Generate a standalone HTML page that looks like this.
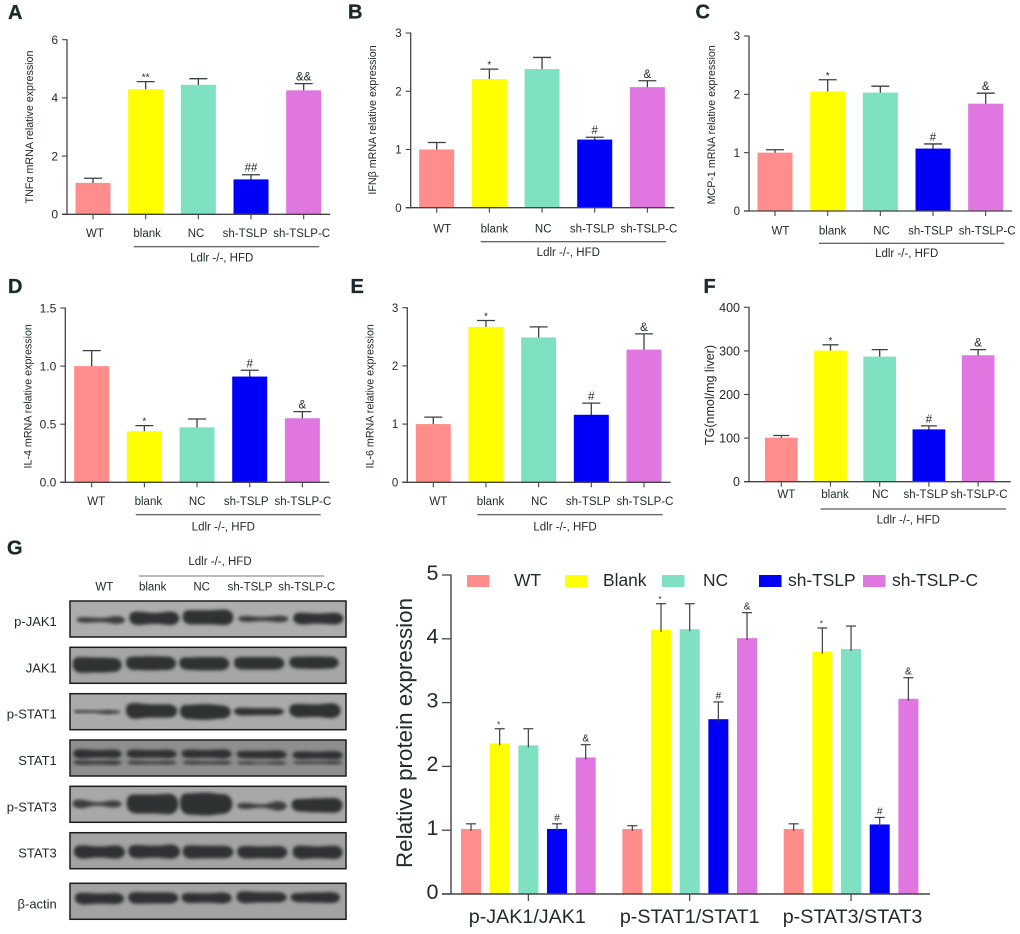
<!DOCTYPE html>
<html lang="en">
<head>
<meta charset="utf-8">
<title>TSLP figure</title>
<style>
html,body{margin:0;padding:0;background:#fff;}
#figure{display:block;width:1020px;height:934px;filter:blur(0.3px);}
text{font-family:"Liberation Sans",Arial,sans-serif;fill:#222b2b;}
.letter{font-size:20px;font-weight:bold;fill:#1b2a2a;stroke:#1b2a2a;stroke-width:0.3px;}
</style>
</head>
<body>
<svg id="figure" xmlns="http://www.w3.org/2000/svg" width="1020" height="934" viewBox="0 0 1020 934">
<defs><filter id="blot-blur" x="-10%" y="-40%" width="120%" height="180%"><feGaussianBlur stdDeviation="1.5"/></filter></defs>
<text class="letter" x="8" y="19">A</text>
<text class="letter" x="348" y="18.5">B</text>
<text class="letter" x="695.5" y="18.5">C</text>
<text class="letter" x="8" y="293">D</text>
<text class="letter" x="350.5" y="293">E</text>
<text class="letter" x="703.5" y="293">F</text>
<text class="letter" x="7" y="554.5">G</text>
<g id="bar-panels"></g>
<g id="blot"></g>
<g id="protein-chart"></g>
</svg>
<script>
// ---- shared categories and colours ----
const categories = ['WT', 'blank', 'NC', 'sh-TSLP', 'sh-TSLP-C'];
const legendLabels = ['WT', 'Blank', 'NC', 'sh-TSLP', 'sh-TSLP-C'];
const barColors = ['#fe8d8c', '#ffff00', '#7fe1c1', '#0000fa', '#e076e0'];

// ---- panel A ----
const tnfValues = [1.08, 4.30, 4.45, 1.20, 4.26];
const tnfErrors = [0.16, 0.26, 0.21, 0.16, 0.23];
const tnfNotes = ['', '**', '', '##', '&&'];
const tnfTicks = ['0', '2', '4', '6'];
// ---- panel B ----
const ifnValues = [1.00, 2.21, 2.38, 1.17, 2.07];
const ifnErrors = [0.12, 0.17, 0.20, 0.04, 0.11];
const ifnNotes = ['', '*', '', '#', '&'];
const ifnTicks = ['0', '1', '2', '3'];
// ---- panel C ----
const mcpValues = [1.00, 2.05, 2.03, 1.07, 1.84];
const mcpErrors = [0.05, 0.20, 0.11, 0.08, 0.18];
const mcpNotes = ['', '*', '', '#', '&'];
const mcpTicks = ['0', '1', '2', '3'];
// ---- panel D ----
const il4Values = [1.00, 0.44, 0.473, 0.91, 0.551];
const il4Errors = [0.133, 0.048, 0.072, 0.054, 0.057];
const il4Notes = ['', '*', '', '#', '&'];
const il4Ticks = ['0.0', '0.5', '1.0', '1.5'];
// ---- panel E ----
const il6Values = [1.00, 2.67, 2.49, 1.16, 2.28];
const il6Errors = [0.12, 0.11, 0.18, 0.20, 0.27];
const il6Notes = ['', '*', '', '#', '&'];
const il6Ticks = ['0', '1', '2', '3'];
// ---- panel F ----
const tgValues = [101, 300.6, 287, 120, 290];
const tgErrors = [5, 13.4, 16, 8, 13];
const tgNotes = ['', '*', '', '#', '&'];
const tgTicks = ['0', '100', '200', '300', '400'];
// ---- panel G chart ----
const proteinGroups = ['p-JAK1/JAK1', 'p-STAT1/STAT1', 'p-STAT3/STAT3'];
const jakValues = [1.02, 2.36, 2.33, 1.02, 2.14];
const jakErrors = [0.08, 0.23, 0.26, 0.08, 0.20];
const stat1Values = [1.02, 4.14, 4.15, 2.74, 4.01];
const stat1Errors = [0.05, 0.41, 0.40, 0.27, 0.40];
const stat3Values = [1.02, 3.80, 3.84, 1.09, 3.06];
const stat3Errors = [0.08, 0.37, 0.36, 0.11, 0.33];
const proteinNotes = ['', '*', '', '#', '&'];
const proteinTicks = ['0', '1', '2', '3', '4', '5'];

// ---- layout (not data) ----
const panels = [
 {id:'tnf', title:'TNFα mRNA relative expression', v:tnfValues, e:tnfErrors, n:tnfNotes, t:tnfTicks, ox:67, y0:214.3, top:39.7, right:330, c0:93, step:52.67, bw:35, cap:9, shift:0, lab:237, ly:246.7, lx1:133.7, lx2:319.3, lc:221.7, lb:261.7, tx:33, ty:127, fs:12},
 {id:'ifn', title:'IFNβ mRNA relative expression', v:ifnValues, e:ifnErrors, n:ifnNotes, t:ifnTicks, ox:410.7, y0:207.7, top:33, right:674.3, c0:436.7, step:52.67, bw:35, cap:9, shift:3.5, lab:232.5, ly:241.7, lx1:480.7, lx2:666, lc:568.3, lb:256, tx:376, ty:120, fs:11.5},
 {id:'mcp', title:'MCP-1 mRNA relative expression', v:mcpValues, e:mcpErrors, n:mcpNotes, t:mcpTicks, ox:749, y0:211, top:36, right:1012, c0:775, step:52.67, bw:35, cap:9, shift:3.5, lab:234.5, ly:243.3, lx1:819, lx2:1004.3, lc:906.7, lb:257, tx:715, ty:124.8, fs:11.5},
 {id:'il4', title:'IL-4 mRNA relative expression', v:il4Values, e:il4Errors, n:il4Notes, t:il4Ticks, ox:65.3, y0:482.3, top:308, right:329.3, c0:91.7, step:52.67, bw:35, cap:9, shift:2.5, lab:505, ly:514.7, lx1:135.7, lx2:320.7, lc:223.3, lb:530.7, tx:31.7, ty:396.3, fs:12},
 {id:'il6', title:'IL-6 mRNA relative expression', v:il6Values, e:il6Errors, n:il6Notes, t:il6Ticks, ox:407.3, y0:482.3, top:307.7, right:670.7, c0:433.3, step:52.67, bw:35, cap:9, shift:3, lab:505, ly:514.7, lx1:477.3, lx2:662.7, lc:565, lb:530.7, tx:373.3, ty:396.3, fs:11.5},
 {id:'tg', title:'TG(nmol/mg liver)', v:tgValues, e:tgErrors, n:tgNotes, t:tgTicks, ox:749, y0:481.7, top:307.3, right:1010.7, c0:781.3, step:49.2, bw:32.7, cap:8, shift:3, lab:498, ly:509, lx1:820.7, lx2:1006, lc:908.3, lb:523.3, tx:714, ty:395, fs:12.5, titleFs:12.5}
];
const labelOffsets = [2, 1.5, -2.3, -6, -2];

const SVGNS = 'http://www.w3.org/2000/svg';
function mk(tag, parent){
  const el = document.createElementNS(SVGNS, tag);
  parent.appendChild(el);
  return el;
}
function setAttrs(el, o){ for (const k in o) el.setAttribute(k, o[k]); return el; }
function line(parent, x1, y1, x2, y2, stroke, w){
  return setAttrs(mk('line', parent), {x1, y1, x2, y2, stroke, 'stroke-width': w});
}

// ---- small mRNA panels ----
const panelRoot = document.getElementById('bar-panels');
panels.forEach(function(p){
  const g = mk('g', panelRoot);
  
  
  const maxV = parseFloat(p.t[p.t.length - 1]);
  const yScale = function(v){ return p.y0 - (v / maxV) * (p.y0 - p.top); };
  const xScale = function(i){ return p.c0 + i * p.step; };

  // bars
  categories.forEach(function(cat, i){
    const cx = xScale(i);
    const topY = yScale(p.v[i]);
    const errY = yScale(p.v[i] + p.e[i]);
    const stem = line(g, cx, errY, cx, topY + 1, '#3a3f3f', 1.3);
    
    
    const cap = line(g, cx - p.cap, errY, cx + p.cap, errY, '#3a3f3f', 1.3);
    
    
    const bar = setAttrs(mk('rect', g), {x: cx - p.bw / 2, y: topY, width: p.bw, height: p.y0 - topY, fill: barColors[i]});
    
    
    if (p.n[i]) {
      const isStar = p.n[i].charAt(0) === '*';
      const note = setAttrs(mk('text', g), {x: cx, y: errY - (isStar ? 1 : 3), 'text-anchor': 'middle', 'font-size': isStar ? 10 : 11.5});
      note.textContent = p.n[i];
      
      
    }
    const lab = setAttrs(mk('text', g), {x: cx + labelOffsets[i] + p.shift, y: p.lab, 'text-anchor': 'middle', 'font-size': 11.5});
    lab.textContent = cat;
    
    
    const tick = line(g, cx, p.y0, cx, p.y0 + 5, '#444', 1.1);
    
    
  });

  // axes
  const yAxis = line(g, p.ox, p.top - 0.5, p.ox, p.y0 + 0.5, '#444', 1.3);
  
  
  const xAxis = line(g, p.ox - 5, p.y0, p.right, p.y0, '#444', 1.3);
  
  
  p.t.forEach(function(label){
    const y = yScale(parseFloat(label));
    const tk = line(g, p.ox - 5, y, p.ox, y, '#444', 1.1);
    
    
    const tl = setAttrs(mk('text', g), {x: p.ox - 9, y: y + p.fs * 0.36, 'text-anchor': 'end', 'font-size': p.fs});
    tl.textContent = label;
    
    
  });

  // titles and group
  const title = setAttrs(mk('text', g), {transform: 'translate(' + p.tx + ',' + p.ty + ') rotate(-90)', 'text-anchor': 'middle', 'font-size': p.titleFs || 10.7});
  title.textContent = p.title;
  
  
  const gl = line(g, p.lx1, p.ly, p.lx2, p.ly, '#333', 1);
  
  
  const gt = setAttrs(mk('text', g), {x: p.lc, y: p.lb, 'text-anchor': 'middle', 'font-size': 11.5});
  gt.textContent = 'Ldlr -/-, HFD';
  
  
});

// ---- western blot (photographic panel, approximated by blurred bands) ----
const blotRows = [
 {name:'p-JAK1', top:601, bg:'#adadad', bands:[[230,375,270,14,11,20],[388,538,265,34,28,34],[548,700,262,36,36,40],[715,865,267,15,11,17],[880,1030,266,30,26,30]]},
 {name:'JAK1', top:647.3, bg:'#a6a6a6', bands:[[218,365,405,40,38,36],[378,528,400,34,36,34],[538,688,401,32,34,34],[702,853,400,32,32,32],[868,1016,398,30,32,30]]},
 {name:'p-STAT1', top:693.7, bg:'#aaaaaa', bands:[[222,290,545,8,7,7],[285,360,546,8,11,8],[378,532,543,40,34,34],[540,692,546,36,40,34],[702,852,545,20,18,18],[868,1022,542,34,32,38]]},
 {name:'STAT1', top:740, bg:'#8e8e8e', bands:[[220,365,672,24,20,22],[380,530,672,22,20,22],[545,695,672,22,20,24],[710,860,674,20,20,22],[878,1028,676,20,18,22],[220,365,698,12,10,12],[382,530,698,10,8,10],[548,695,698,10,8,10],[712,860,699,8,5,9],[880,1028,698,8,7,9]]},
 {name:'p-STAT3', top:786.3, bg:'#a8a8a8', bands:[[218,365,822,22,9,18],[380,535,822,48,48,52],[540,697,822,54,58,50],[712,860,828,16,9,24],[875,1028,826,32,36,38]]},
 {name:'STAT3', top:832.7, bg:'#a3a3a3', bands:[[222,375,966,34,28,34],[385,540,965,34,30,36],[548,700,966,34,32,32],[712,862,967,32,30,32],[878,1028,967,34,30,34]]},
 {name:'β-actin', top:883.3, bg:'#a3a3a3', bands:[[225,372,1106,30,26,28],[385,535,1104,30,28,28],[545,695,1104,26,24,28],[710,860,1102,30,26,26],[872,1020,1103,24,26,28]]}
];
const blotLanes = ['WT', 'blank', 'NC', 'sh-TSLP', 'sh-TSLP-C'];
const blotRoot = document.getElementById('blot');
function bandPath(b){
  const k = 1.18;
  const x1 = b[0] / 3, x2 = b[1] / 3, yc = 530 + b[2] / 3, hL = k * b[3] / 6, hM = k * b[4] / 6, hR = k * b[5] / 6;
  const w = x2 - x1, a = x1 + w * 0.18, m = x1 + w * 0.5, c = x1 + w * 0.82;
  return 'M' + x1 + ',' + yc +
    ' C' + x1 + ',' + (yc - hL) + ' ' + (a - w * 0.1) + ',' + (yc - hL) + ' ' + a + ',' + (yc - hL) +
    ' S' + (m - w * 0.15) + ',' + (yc - hM) + ' ' + m + ',' + (yc - hM) +
    ' S' + (c - w * 0.1) + ',' + (yc - hR) + ' ' + c + ',' + (yc - hR) +
    ' S' + x2 + ',' + (yc - hR * 0.6) + ' ' + x2 + ',' + yc +
    ' S' + (c + w * 0.1) + ',' + (yc + hR) + ' ' + c + ',' + (yc + hR) +
    ' S' + (m + w * 0.15) + ',' + (yc + hM) + ' ' + m + ',' + (yc + hM) +
    ' S' + (a + w * 0.1) + ',' + (yc + hL) + ' ' + a + ',' + (yc + hL) +
    ' S' + x1 + ',' + (yc + hL * 0.6) + ' ' + x1 + ',' + yc + ' Z';
}
blotRows.forEach(function(r){
  const rowG = mk('g', blotRoot);
  
  
  const bg = setAttrs(mk('rect', rowG), {x: 70, y: r.top, width: 276, height: 36, fill: r.bg});
  
  
  r.bands.forEach(function(b){
    const pth = setAttrs(mk('path', rowG), {d: bandPath(b), fill: '#2f3030', filter: 'url(#blot-blur)'});
    
    
    if (b[4] < 13) pth.setAttribute('fill', '#3d3e3e');
  });
  const border = setAttrs(mk('rect', rowG), {x: 70, y: r.top, width: 276, height: 36, fill: 'none', stroke: '#1c1c1c', 'stroke-width': 1.5});
  
  
  const lab = setAttrs(mk('text', rowG), {x: 56.8, y: r.top + 25, 'text-anchor': 'end', 'font-size': 13});
  lab.textContent = r.name;
  
  
});
const blotLaneXs = [104.3, 152.7, 201.7, 250, 306.7];
blotLanes.forEach(function(name, i){
  const t = setAttrs(mk('text', blotRoot), {x: blotLaneXs[i], y: 590.7, 'text-anchor': 'middle', 'font-size': 11.5});
  t.textContent = name;
  
  
});
const blotLine = line(blotRoot, 139, 576, 324.3, 576, '#777', 1);


const blotGroup = setAttrs(mk('text', blotRoot), {x: 220, y: 565, 'text-anchor': 'middle', 'font-size': 11.5});
blotGroup.textContent = 'Ldlr -/-, HFD';



// ---- protein chart ----
const pc = document.getElementById('protein-chart');
const pSeries = [[jakValues, jakErrors], [stat1Values, stat1Errors], [stat3Values, stat3Errors]];
const pAxis = {ox: 451, y0: 894, top: 575, right: 930, start: 471, step: 28.67, groupStep: 161.35, bw: 20};
const pLabelShift = [-1, 0, 1.5];
const pMax = parseFloat(proteinTicks[proteinTicks.length - 1]);
function pY(v){ return pAxis.y0 - (v / pMax) * (pAxis.y0 - pAxis.top); }
function pX(g, i){ return pAxis.start + g * pAxis.groupStep + i * pAxis.step; }
proteinGroups.forEach(function(name, g){
  const vals = pSeries[g][0], errs = pSeries[g][1];
  categories.forEach(function(cat, i){
    const cx = pX(g, i), topY = pY(vals[i]), errY = pY(vals[i] + errs[i]);
    const bar = setAttrs(mk('rect', pc), {x: cx - pAxis.bw / 2, y: topY, width: pAxis.bw, height: pAxis.y0 - topY, fill: barColors[i]});
    
    
    const stem = line(pc, cx, errY, cx, topY + 2, '#3a3f3f', 1.2);
    
    
    const cap = line(pc, cx - 5, errY, cx + 5, errY, '#3a3f3f', 1.2);
    
    
    if (proteinNotes[i]) {
      const star = proteinNotes[i] === '*';
      const note = setAttrs(mk('text', pc), {x: cx - (star ? 1 : 0), y: errY - (star ? 1.5 : 3), 'text-anchor': 'middle', 'font-size': star ? 8 : 10});
      note.textContent = proteinNotes[i];
      
      
    }
  });
  const tickX = pX(g, 2);
  const tk = line(pc, tickX, pAxis.y0, tickX, pAxis.y0 + 7, '#444', 1.2);
  
  
  const lab = setAttrs(mk('text', pc), {x: tickX + pLabelShift[g], y: 923, 'text-anchor': 'middle', 'font-size': 19.7});
  lab.textContent = name;
  
  
});
const pyAxis = line(pc, pAxis.ox, pAxis.top - 0.5, pAxis.ox, pAxis.y0 + 0.5, '#444', 1.4);


const pxAxis = line(pc, pAxis.ox - 9, pAxis.y0, pAxis.right, pAxis.y0, '#444', 1.4);


proteinTicks.forEach(function(label){
  const y = pY(parseFloat(label));
  const tk = line(pc, pAxis.ox - 9, y, pAxis.ox, y, '#444', 1.3);
  
  
  const tl = setAttrs(mk('text', pc), {x: pAxis.ox - 12.5, y: y + 4.8, 'text-anchor': 'end', 'font-size': 21.5});
  tl.textContent = label;
  
  
});
const pTitle = setAttrs(mk('text', pc), {transform: 'translate(412,733) rotate(-90)', 'text-anchor': 'middle', 'font-size': 22.4});
pTitle.textContent = 'Relative protein expression';



// legend
const legendSwatchXs = [467, 565, 662, 759, 863];
const legendTextXs = [514, 603, 703, 788, 892];
legendLabels.forEach(function(name, i){
  const sw = setAttrs(mk('rect', pc), {x: legendSwatchXs[i], y: 575, width: 22.5, height: 12, fill: barColors[i]});
  
  
  const t = setAttrs(mk('text', pc), {x: legendTextXs[i], y: 586, 'font-size': 17.4});
  t.textContent = name;
  
  
});
</script>
</body>
</html>
